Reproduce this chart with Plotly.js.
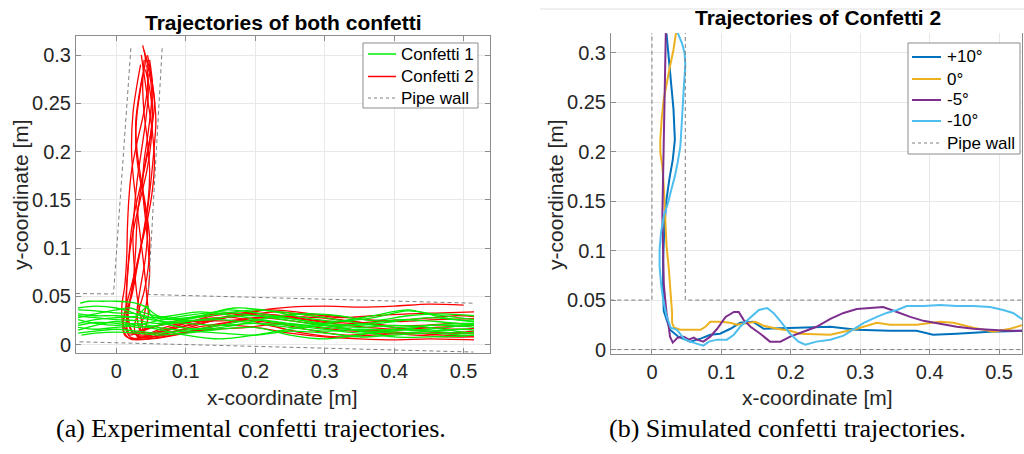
<!DOCTYPE html>
<html>
<head>
<meta charset="utf-8">
<script src="https://cdn.plot.ly/plotly-3.0.1.min.js"></script>
<style>html,body{margin:0;padding:0;background:#fff;}#chart{width:1024px;height:454px;}</style>
</head>
<body>
<div id="chart"></div>
<script>
// ---------- (a) experimental: Confetti 1 (green) ----------
const confetti1X = [
  [-0.052,-0.04,-0.02,0.0,0.02,0.04,0.06,0.10,0.15,0.20,0.25,0.30,0.35,0.40,0.45,0.50,0.515],
  [-0.055,-0.03,0.0,0.03,0.05,0.08,0.12,0.17,0.22,0.27,0.32,0.37,0.42,0.47,0.515],
  [-0.055,-0.03,0.0,0.03,0.06,0.10,0.15,0.20,0.25,0.30,0.35,0.40,0.45,0.50,0.515],
  [-0.055,-0.03,0.0,0.03,0.06,0.10,0.15,0.20,0.25,0.30,0.35,0.40,0.45,0.50,0.515],
  [-0.055,-0.03,0.0,0.03,0.06,0.10,0.15,0.20,0.25,0.30,0.35,0.40,0.45,0.50,0.515],
  [-0.055,-0.03,0.0,0.03,0.06,0.10,0.15,0.20,0.25,0.30,0.35,0.40,0.45,0.50,0.515],
  [-0.055,-0.03,0.0,0.03,0.045,0.05,0.08,0.12,0.17,0.22,0.27,0.32,0.37,0.42,0.47,0.515],
  [-0.055,-0.03,0.0,0.03,0.06,0.10,0.15,0.20,0.25,0.30,0.35,0.40,0.45,0.50,0.515],
  [-0.055,-0.03,0.0,0.03,0.06,0.10,0.15,0.20,0.25,0.30,0.35,0.40,0.45,0.50,0.515],
  [-0.055,-0.03,0.0,0.02,0.04,0.07,0.11,0.16,0.21,0.26,0.31,0.36,0.41,0.46,0.515],
  [-0.055,-0.03,0.0,0.03,0.06,0.10,0.15,0.20,0.25,0.30,0.35,0.40,0.45,0.50,0.515],
  [-0.05,-0.03,0.0,0.03,0.06,0.10,0.15,0.20,0.25,0.30,0.35,0.40,0.45,0.50,0.515],
  [-0.055,-0.03,0.0,0.02,0.045,0.08,0.12,0.17,0.22,0.27,0.32,0.37,0.42,0.47,0.515]
];
const confetti1Y = [
  [0.043,0.045,0.045,0.045,0.044,0.040,0.030,0.025,0.028,0.030,0.027,0.022,0.020,0.024,0.028,0.025,0.024],
  [0.036,0.035,0.033,0.032,0.028,0.020,0.016,0.020,0.028,0.032,0.030,0.025,0.030,0.032,0.030],
  [0.030,0.028,0.026,0.025,0.022,0.026,0.032,0.036,0.033,0.028,0.022,0.018,0.020,0.022,0.022],
  [0.026,0.022,0.020,0.022,0.018,0.015,0.020,0.026,0.022,0.018,0.015,0.012,0.014,0.016,0.015],
  [0.018,0.016,0.018,0.020,0.025,0.030,0.034,0.030,0.025,0.020,0.018,0.020,0.018,0.013,0.012],
  [0.012,0.014,0.016,0.014,0.012,0.014,0.012,0.010,0.014,0.012,0.008,0.010,0.012,0.010,0.010],
  [0.022,0.026,0.028,0.030,0.040,0.030,0.026,0.030,0.038,0.035,0.028,0.024,0.028,0.035,0.030,0.026],
  [0.032,0.030,0.030,0.028,0.025,0.022,0.020,0.022,0.020,0.016,0.012,0.014,0.020,0.019,0.018],
  [0.015,0.020,0.024,0.020,0.016,0.010,0.006,0.010,0.016,0.020,0.014,0.008,0.008,0.009,0.010],
  [0.028,0.032,0.036,0.038,0.033,0.028,0.028,0.036,0.032,0.026,0.020,0.022,0.026,0.024,0.020],
  [0.020,0.023,0.022,0.018,0.020,0.024,0.026,0.022,0.018,0.014,0.016,0.015,0.016,0.020,0.021],
  [0.010,0.012,0.013,0.012,0.010,0.012,0.016,0.018,0.010,0.006,0.010,0.016,0.014,0.012,0.013],
  [0.038,0.040,0.038,0.034,0.028,0.030,0.034,0.030,0.024,0.020,0.024,0.030,0.036,0.028,0.024]
];
// ---------- (a) experimental: Confetti 2 (red) ----------
const confetti2X = [
  [0.040,0.045,0.050,0.052,0.048,0.040,0.030,0.022,0.018,0.015,0.016,0.022,0.035,0.06,0.10,0.15,0.20,0.25,0.30,0.35,0.40,0.45,0.50],
  [0.038,0.042,0.036,0.030,0.028,0.032,0.040,0.045,0.042,0.035,0.030,0.034,0.045,0.07,0.12,0.17,0.22,0.27,0.32,0.37,0.42,0.47,0.515],
  [0.045,0.050,0.055,0.050,0.042,0.035,0.030,0.028,0.025,0.020,0.015,0.020,0.040,0.08,0.13,0.18,0.23,0.28,0.33,0.38,0.43,0.48,0.515],
  [0.035,0.030,0.024,0.022,0.025,0.030,0.035,0.040,0.044,0.046,0.040,0.030,0.050,0.09,0.14,0.19,0.24,0.29,0.34,0.39,0.44,0.49,0.515],
  [0.042,0.048,0.054,0.057,0.054,0.050,0.045,0.038,0.030,0.022,0.012,0.010,0.020,0.05,0.10,0.15,0.20,0.25,0.30,0.35,0.40,0.45,0.515],
  [0.040,0.038,0.040,0.045,0.048,0.046,0.040,0.032,0.025,0.018,0.014,0.018,0.030,0.06,0.11,0.16,0.21,0.26,0.31,0.36,0.41,0.46,0.515],
  [0.044,0.046,0.042,0.036,0.030,0.026,0.024,0.026,0.030,0.035,0.040,0.045,0.06,0.10,0.15,0.20,0.25,0.30,0.35,0.40,0.45,0.50,0.515],
  [0.036,0.040,0.046,0.052,0.055,0.052,0.045,0.035,0.025,0.016,0.010,0.012,0.025,0.05,0.09,0.14,0.19,0.24,0.29,0.34,0.39,0.44,0.49,0.515],
  [0.046,0.044,0.038,0.030,0.022,0.018,0.016,0.015,0.012,0.008,0.010,0.020,0.04,0.08,0.13,0.18,0.23,0.28,0.33,0.38,0.43,0.48,0.515],
  [0.048,0.052,0.050,0.045,0.040,0.038,0.042,0.046,0.048,0.045,0.040,0.035,0.05,0.08,0.12,0.17,0.22,0.27,0.32,0.37,0.42,0.47,0.515],
  [0.042,0.048,0.052,0.050,0.044,0.036,0.028,0.020,0.016,0.014,0.016,0.024,0.04,0.07,0.11,0.16,0.21,0.26,0.31,0.36,0.41,0.46,0.515],
  [0.038,0.032,0.028,0.030,0.036,0.043,0.048,0.046,0.040,0.032,0.026,0.030,0.05,0.09,0.14,0.19,0.24,0.29,0.34,0.39,0.44,0.49,0.515]
];
const confetti2Y = [
  [0.305,0.290,0.270,0.240,0.210,0.180,0.150,0.120,0.090,0.060,0.035,0.015,0.008,0.012,0.020,0.028,0.035,0.039,0.040,0.039,0.040,0.042,0.041],
  [0.310,0.295,0.270,0.240,0.210,0.180,0.150,0.120,0.090,0.060,0.035,0.015,0.010,0.015,0.022,0.030,0.036,0.033,0.028,0.030,0.032,0.033,0.034],
  [0.300,0.280,0.250,0.220,0.190,0.160,0.130,0.100,0.070,0.045,0.020,0.008,0.006,0.010,0.018,0.025,0.022,0.015,0.010,0.012,0.010,0.008,0.008],
  [0.290,0.270,0.240,0.200,0.170,0.140,0.110,0.080,0.050,0.030,0.015,0.008,0.008,0.015,0.025,0.032,0.030,0.025,0.022,0.025,0.027,0.030,0.029],
  [0.300,0.285,0.260,0.230,0.200,0.170,0.140,0.110,0.080,0.050,0.030,0.015,0.006,0.006,0.012,0.020,0.018,0.012,0.008,0.006,0.005,0.006,0.005],
  [0.295,0.270,0.240,0.210,0.180,0.150,0.120,0.090,0.065,0.040,0.020,0.010,0.012,0.020,0.028,0.033,0.030,0.027,0.022,0.018,0.016,0.018,0.020],
  [0.290,0.260,0.230,0.200,0.170,0.140,0.110,0.080,0.050,0.030,0.012,0.007,0.010,0.016,0.022,0.028,0.025,0.020,0.015,0.013,0.012,0.013,0.014],
  [0.300,0.280,0.250,0.220,0.190,0.160,0.130,0.100,0.070,0.045,0.025,0.010,0.006,0.010,0.020,0.030,0.033,0.030,0.028,0.024,0.020,0.020,0.022,0.021],
  [0.280,0.260,0.235,0.210,0.180,0.150,0.120,0.090,0.060,0.040,0.020,0.012,0.016,0.022,0.026,0.030,0.034,0.030,0.025,0.020,0.015,0.012,0.012],
  [0.295,0.270,0.245,0.215,0.190,0.160,0.130,0.100,0.075,0.050,0.030,0.015,0.012,0.018,0.026,0.028,0.020,0.012,0.008,0.010,0.012,0.010,0.009],
  [0.285,0.265,0.240,0.210,0.180,0.155,0.130,0.100,0.070,0.045,0.025,0.012,0.010,0.018,0.024,0.025,0.028,0.032,0.030,0.026,0.024,0.026,0.027],
  [0.280,0.255,0.230,0.200,0.170,0.140,0.110,0.080,0.055,0.035,0.018,0.009,0.008,0.012,0.016,0.018,0.022,0.018,0.014,0.015,0.018,0.016,0.017]
];
// pipe wall (a)
const wallAX = [-0.058,-0.004,0.021,null,0.066,0.046,0.514,null,-0.053,0.514];
const wallAY = [0.053,0.0525,0.307,null,0.307,0.052,0.043,null,0.003,-0.0076];

// ---------- (b) simulated ----------
const angles = ['+10°','0°','-5°','-10°'];
const simX = [
  [0.021,0.025,0.028,0.031,0.033,0.030,0.025,0.021,0.018,0.016,0.016,0.017,0.026,0.038,0.055,0.070,0.084,0.098,0.113,0.127,0.146,0.161,0.209,0.257,0.295,0.343,0.381,0.405,0.439,0.487,0.535],
  [0.035,0.031,0.025,0.021,0.017,0.014,0.012,0.012,0.015,0.017,0.018,0.019,0.021,0.024,0.026,0.028,0.029,0.029,0.032,0.041,0.070,0.077,0.084,0.098,0.113,0.122,0.137,0.149,0.161,0.180,0.199,0.213,0.257,0.276,0.295,0.324,0.343,0.381,0.415,0.434,0.463,0.492,0.516,0.535],
  [0.020,0.019,0.018,0.017,0.017,0.016,0.015,0.016,0.017,0.019,0.021,0.024,0.026,0.030,0.037,0.046,0.053,0.060,0.065,0.074,0.084,0.094,0.106,0.118,0.125,0.132,0.142,0.156,0.170,0.185,0.199,0.218,0.237,0.257,0.276,0.295,0.314,0.333,0.353,0.372,0.391,0.415,0.439,0.463,0.487,0.511,0.535],
  [0.036,0.043,0.047,0.048,0.046,0.044,0.043,0.041,0.037,0.033,0.028,0.023,0.017,0.013,0.011,0.011,0.013,0.016,0.021,0.027,0.036,0.046,0.055,0.065,0.074,0.082,0.094,0.108,0.118,0.127,0.142,0.154,0.166,0.175,0.187,0.199,0.211,0.221,0.237,0.257,0.276,0.290,0.305,0.324,0.338,0.353,0.367,0.391,0.415,0.439,0.463,0.487,0.506,0.520,0.535]
];
const simY = [
  [0.319,0.287,0.263,0.243,0.212,0.192,0.172,0.152,0.125,0.091,0.064,0.039,0.020,0.013,0.008,0.011,0.015,0.016,0.021,0.027,0.028,0.021,0.022,0.023,0.020,0.019,0.019,0.015,0.016,0.018,0.019],
  [0.322,0.303,0.283,0.266,0.253,0.233,0.212,0.199,0.185,0.165,0.145,0.125,0.105,0.084,0.067,0.051,0.037,0.027,0.022,0.020,0.020,0.023,0.028,0.028,0.027,0.025,0.027,0.028,0.024,0.021,0.019,0.016,0.015,0.018,0.021,0.027,0.025,0.025,0.028,0.027,0.022,0.018,0.021,0.025],
  [0.322,0.287,0.253,0.219,0.199,0.169,0.135,0.101,0.067,0.051,0.037,0.024,0.013,0.007,0.012,0.013,0.010,0.012,0.010,0.008,0.013,0.021,0.033,0.038,0.038,0.030,0.023,0.016,0.008,0.008,0.013,0.018,0.023,0.031,0.037,0.041,0.042,0.043,0.038,0.033,0.029,0.026,0.023,0.021,0.020,0.019,0.019],
  [0.322,0.310,0.300,0.287,0.266,0.243,0.219,0.206,0.189,0.175,0.162,0.148,0.135,0.118,0.101,0.084,0.067,0.051,0.034,0.022,0.020,0.011,0.008,0.006,0.004,0.008,0.010,0.010,0.015,0.023,0.032,0.040,0.042,0.037,0.027,0.016,0.008,0.005,0.008,0.010,0.014,0.020,0.027,0.033,0.037,0.040,0.044,0.044,0.045,0.044,0.044,0.043,0.040,0.037,0.030]
];
const simColors = ['#0072BD','#EDB120','#7E2F8E','#4DBEEE'];
// pipe wall (b)
const wallBX = [-0.06,0,0,null,0.048,0.048,0.54,null,-0.06,0.54];
const wallBY = [0.05,0.05,0.33,null,0.33,0.05,0.05,null,0,0];

const RED='#ff0000', GREEN='#00ee00', WALL='#7f7f7f', WALLDASH='4px,3px';
const traces = [];
confetti2X.forEach((xs,i)=>traces.push({x:xs,y:confetti2Y[i],type:'scatter',mode:'lines',
  line:{color:RED,width:1.3,shape:'spline',smoothing:0.8},name:'Confetti 2',xaxis:'x',yaxis:'y'}));
confetti1X.forEach((xs,i)=>traces.push({x:xs,y:confetti1Y[i],type:'scatter',mode:'lines',
  line:{color:GREEN,width:1.3,shape:'spline',smoothing:0.8},name:'Confetti 1',xaxis:'x',yaxis:'y'}));
traces.push({x:wallAX,y:wallAY,type:'scatter',mode:'lines',line:{color:WALL,width:1,dash:WALLDASH},
  name:'Pipe wall',xaxis:'x',yaxis:'y',connectgaps:false});
simX.forEach((xs,i)=>traces.push({x:xs,y:simY[i],type:'scatter',mode:'lines',
  line:{color:simColors[i],width:2},name:angles[i],xaxis:'x2',yaxis:'y2'}));
traces.push({x:wallBX,y:wallBY,type:'scatter',mode:'lines',line:{color:WALL,width:1,dash:WALLDASH},
  name:'Pipe wall',xaxis:'x2',yaxis:'y2',connectgaps:false});

const F = '"Liberation Sans", Arial, Helvetica, sans-serif';
const SERIF = '"Liberation Serif","Times New Roman",serif';
const axBase = {showgrid:true,gridcolor:'#e8e8e8',gridwidth:1,zeroline:false,showline:true,linecolor:'#8c8c8c',
  linewidth:1,ticks:'inside',ticklen:5,tickcolor:'#8c8c8c',tickfont:{family:F,size:20,color:'#262626'}};
const xTicks = [0,0.1,0.2,0.3,0.4,0.5];
const xLabels = ['0','0.1','0.2','0.3','0.4','0.5'];
const yTicks = [0,0.05,0.1,0.15,0.2,0.25,0.3];
const yLabels = ['0','0.05','0.1','0.15','0.2','0.25','0.3'];
const W=1024,H=454;
const px=v=>v/W, py=v=>1-v/H;

const ann = (text,x,y,size,opts)=>Object.assign({text:text,xref:'paper',yref:'paper',x:px(x),y:py(y),
  xanchor:'center',yanchor:'middle',showarrow:false,font:{family:F,size:size,color:'#000'}},opts||{});

// legend boxes (drawn with shapes + text)
const legendA = {box:[363,43,478,108], lineX:[368,396], textX:399, rows:[54,76.5,98],
  entries:[{name:'Confetti 1',color:GREEN,w:1.5},{name:'Confetti 2',color:RED,w:1.5},{name:'Pipe wall',color:WALL,w:1,dash:'3px,3px'}]};
const legendB = {box:[908,43,1020,154], lineX:[912,941], textX:945, rows:[57,79,100,121,143],
  entries:angles.map((a,i)=>({name:a,color:simColors[i],w:2})).concat([{name:'Pipe wall',color:WALL,w:1,dash:'3px,3px'}])};

const shapes=[{type:'line',xref:'paper',yref:'paper',x0:px(540),x1:1,y0:py(9),y1:py(9),line:{color:'#e0e0e0',width:1}}];
const annotations=[
  ann('<b>Trajectories of both confetti</b>',283,22,21),
  ann('<b>Trajectories of Confetti 2</b>',818,18,21),
  ann('x-coordinate [m]',282.5,397,21,{font:{family:F,size:21,color:'#262626'}}),
  ann('x-coordinate [m]',817.5,397,21,{font:{family:F,size:21,color:'#262626'}}),
  ann('y-coordinate [m]',20,195,21,{textangle:-90,font:{family:F,size:21,color:'#262626'}}),
  ann('y-coordinate [m]',555,195,21,{textangle:-90,font:{family:F,size:21,color:'#262626'}}),
  ann('(a) Experimental confetti trajectories.',250.5,428,26,{font:{family:SERIF,size:26,color:'#000'}}),
  ann('(b) Simulated confetti trajectories.',787.5,428,26,{font:{family:SERIF,size:26,color:'#000'}})
];
[legendA,legendB].forEach(L=>{
  shapes.push({type:'rect',xref:'paper',yref:'paper',x0:px(L.box[0]),x1:px(L.box[2]),y0:py(L.box[3]),y1:py(L.box[1]),
    fillcolor:'#ffffff',line:{color:'#8c8c8c',width:1},layer:'above'});
  L.entries.forEach((e,i)=>{
    shapes.push({type:'line',xref:'paper',yref:'paper',x0:px(L.lineX[0]),x1:px(L.lineX[1]),y0:py(L.rows[i]),y1:py(L.rows[i]),
      line:{color:e.color,width:e.w,dash:e.dash||'solid'},layer:'above'});
    annotations.push(ann(e.name,L.textX,L.rows[i],17,{xanchor:'left',font:{family:F,size:17,color:'#000'}}));
  });
});

const layout = {
  width:W,height:H,margin:{l:0,r:0,t:0,b:0},paper_bgcolor:'#fff',plot_bgcolor:'#fff',showlegend:false,
  xaxis:Object.assign({},axBase,{domain:[px(76),px(490)],range:[-0.058,0.538],tickvals:xTicks,ticktext:xLabels,mirror:'ticks',anchor:'y'}),
  yaxis:Object.assign({},axBase,{domain:[py(353),py(36)],range:[-0.0086,0.3197],tickvals:yTicks,ticktext:yLabels,mirror:'ticks',anchor:'x'}),
  xaxis2:Object.assign({},axBase,{domain:[px(611),px(1022)],range:[-0.059,0.533],tickvals:xTicks,ticktext:xLabels,mirror:false,anchor:'y2'}),
  yaxis2:Object.assign({},axBase,{domain:[py(354),py(33)],range:[-0.0045,0.3199],tickvals:yTicks,ticktext:yLabels,mirror:true,anchor:'x2'}),
  shapes:shapes,
  annotations:annotations
};
Plotly.newPlot('chart',traces,layout,{staticPlot:true,displayModeBar:false});
</script>
</body>
</html>
